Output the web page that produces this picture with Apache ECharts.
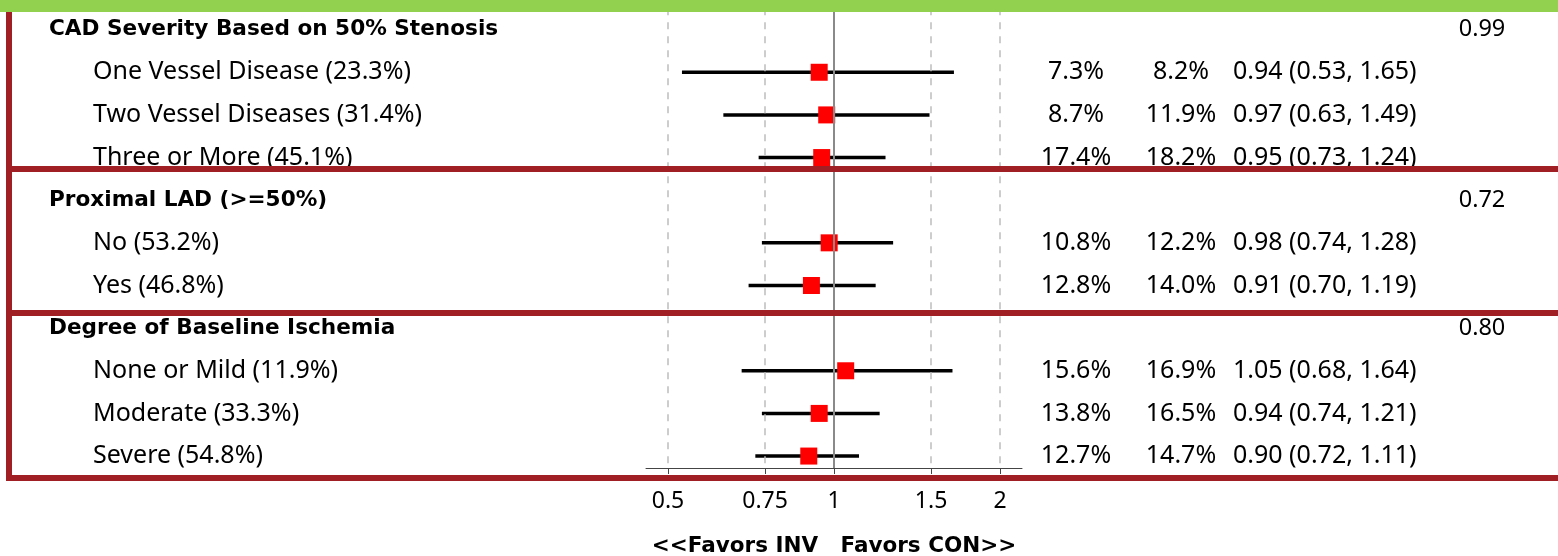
<!DOCTYPE html>
<html><head><meta charset="utf-8">
<script src="https://cdn.jsdelivr.net/npm/echarts@6/dist/echarts.min.js"></script>
<style>html,body{margin:0;padding:0;background:#fff}#c{width:1558px;height:556px}</style>
</head><body><div id="c"></div>
<script>
// ---- data ----
const rowLabels = ['CAD Severity Based on 50% Stenosis','One Vessel Disease (23.3%)','Two Vessel Diseases (31.4%)','Three or More (45.1%)','Proximal LAD (>=50%)','No (53.2%)','Yes (46.8%)','Degree of Baseline Ischemia','None or Mild (11.9%)','Moderate (33.3%)','Severe (54.8%)'];
const isHeader = [1,0,0,0,1,0,0,1,0,0,0];
const rateInv = ['','7.3%','8.7%','17.4%','','10.8%','12.8%','','15.6%','13.8%','12.7%'];
const rateCon = ['','8.2%','11.9%','18.2%','','12.2%','14.0%','','16.9%','16.5%','14.7%'];
const hr     = [null,0.94,0.97,0.95,null,0.98,0.91,null,1.05,0.94,0.90];
const ciLow  = [null,0.53,0.63,0.73,null,0.74,0.70,null,0.68,0.74,0.72];
const ciHigh = [null,1.65,1.49,1.24,null,1.28,1.19,null,1.64,1.21,1.11];
const pInteraction = ['0.99','','','','0.72','','','0.80','','',''];
const xTicks = [0.5,0.75,1,1.5,2];
const xTickLabels = ['0.5','0.75','1','1.5','2'];
const axisTitle = '<<Favors INV   Favors CON>>';

// ---- layout ----
const FONT = '"Noto Sans", "Open Sans", sans-serif';
const BOLDFONT = '"DejaVu Sans", sans-serif';
const GT = 8.3, GH = 459.7;
const yAx = (gi) => ({gridIndex:gi,type:'value',inverse:true,min:-0.5,max:10.28,show:false});
const rows = rowLabels.map((_, i) => i);

// text column drawn through the overlay grid's scales
function textSeries(xPos, texts, fontSize, align, headerBold) {
  const items = rows.filter(i => texts[i] !== '');
  return {
    type:'custom', xAxisIndex:1, yAxisIndex:1, silent:true, z:5,
    data: items.map(i => [typeof xPos==='function'?xPos(i):xPos, i]),
    renderItem:(params, api) => {
      const i = api.value(1);
      const p = api.coord([api.value(0), i]);
      const bold = headerBold && isHeader[i];
      return {type:'text', x:p[0], y:p[1], style:{
        text:texts[i], fill:'#000', align:align, verticalAlign:'middle',
        fontFamily: bold ? BOLDFONT : FONT, fontWeight: bold ? 'bold' : 'normal',
        fontSize: bold ? 21.6 : fontSize}};
    }
  };
}

const chart = echarts.init(document.getElementById('c'), null, {renderer:'canvas'});
const forestData = rows.filter(i => hr[i] !== null).map(i => [hr[i], i]);
const ciData = rows.filter(i => hr[i] !== null).map(i => [ciLow[i], ciHigh[i], i]);
const hrText = rows.map(i => hr[i] === null ? '' : `${hr[i].toFixed(2)} (${ciLow[i].toFixed(2)}, ${ciHigh[i].toFixed(2)})`);

chart.setOption({
  animation:false,
  backgroundColor:'#fff',
  grid:[
    {left:646, width:376, top:GT, height:GH, containLabel:false, outerBoundsMode:'none'},
    {left:0, width:1558, top:GT, height:GH, containLabel:false, outerBoundsMode:'none'}
  ],
  xAxis:[
    {gridIndex:0, type:'log', logBase:10, min:0.4561, max:2.1924, position:'bottom',
     axisLine:{show:true, onZero:false, lineStyle:{color:'#444', width:1}},
     axisTick:{show:true, customValues:xTicks, length:6, lineStyle:{color:'#444'}},
     axisLabel:{show:true, customValues:xTicks, margin:22, color:'#000', fontFamily:FONT, fontSize:23,
       formatter:(v)=>{const k=xTicks.findIndex(t=>Math.abs(t-v)<1e-6);return k>=0?xTickLabels[k]:'';}},
     splitLine:{show:false},
     name:axisTitle, nameLocation:'middle', nameGap:67,
     nameTextStyle:{fontFamily:BOLDFONT, fontWeight:'bold', fontSize:21.5, color:'#000'}
    },
    {gridIndex:1, type:'value', min:0, max:1558, show:false}
  ],
  yAxis:[yAx(0), yAx(1)],
  series:[
    {type:'scatter', xAxisIndex:0, yAxisIndex:0, data:[], silent:true,
     markLine:{silent:true, symbol:'none', label:{show:false},
       lineStyle:{color:'#bdbdbd', width:1.5, type:[7,7]},
       data: xTicks.filter(v=>v!==1).map(v=>({xAxis:v}))}},
    {type:'scatter', xAxisIndex:0, yAxisIndex:0, data:[], silent:true,
     markLine:{silent:true, symbol:'none', label:{show:false},
       lineStyle:{color:'#8a8a8a', width:2, type:'solid'},
       data:[{xAxis:1}]}},
    {type:'custom', xAxisIndex:0, yAxisIndex:0, data:ciData, z:3, silent:true,
     renderItem:(params, api)=>{
       const a = api.coord([api.value(0), api.value(2)]);
       const b = api.coord([api.value(1), api.value(2)]);
       return {type:'line', shape:{x1:a[0], y1:a[1], x2:b[0], y2:b[1]},
         style:{stroke:'#000', lineWidth:3.5}};
     }},
    {type:'scatter', xAxisIndex:0, yAxisIndex:0, data:forestData, symbol:'rect', symbolSize:17,
     itemStyle:{color:'#ff0000', opacity:1}, z:4, silent:true},
    textSeries((i)=>isHeader[i]?49:93, rowLabels, 25, 'left', true),
    textSeries(1076, rateInv, 25, 'center', false),
    textSeries(1181, rateCon, 25, 'center', false),
    textSeries(1233, hrText, 25, 'left', false),
    textSeries(1482, pInteraction, 23.5, 'center', false)
  ],
  graphic:[
    {type:'rect', z:100, shape:{x:0,y:0,width:1558,height:12}, style:{fill:'#92D050'}},
    {type:'rect', z:100, shape:{x:6,y:12,width:6,height:469}, style:{fill:'#A01F25'}},
    {type:'rect', z:100, shape:{x:6,y:166,width:1552,height:6}, style:{fill:'#A01F25'}},
    {type:'rect', z:100, shape:{x:6,y:310,width:1552,height:6}, style:{fill:'#A01F25'}},
    {type:'rect', z:100, shape:{x:6,y:475,width:1552,height:6}, style:{fill:'#A01F25'}}
  ]
});
</script></body></html>
